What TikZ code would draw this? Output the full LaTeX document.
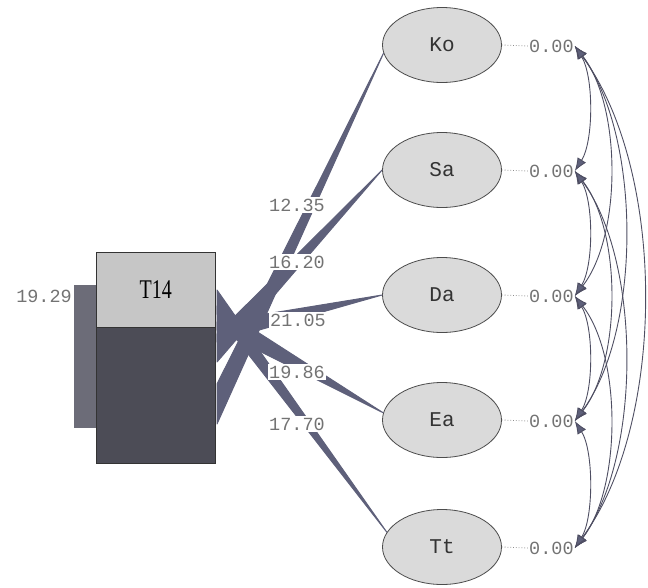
\documentclass[tikz,border=0pt]{standalone}
\usepackage{fontspec}
\setmainfont{Liberation Serif}
\newfontfamily\monofont{Liberation Mono}
\usetikzlibrary{arrows.meta,shapes.geometric}
\definecolor{wedgecol}{HTML}{5E607A}
\definecolor{boxdark}{HTML}{4C4C56}
\definecolor{bardark}{HTML}{6C6C78}
\definecolor{boxlight}{HTML}{C6C6C6}
\definecolor{ellfill}{HTML}{DADADA}
\definecolor{covcol}{HTML}{4E4E62}
\begin{document}
\begin{tikzpicture}[x=1pt,y=-1pt,
  latent/.style={ellipse, draw=black!70, line width=0.8pt, fill=ellfill, minimum width=119pt, minimum height=75pt, inner sep=0pt, font=\monofont\fontsize{21}{21}\selectfont, text=black!80},
  num/.style={font=\monofont\fontsize{18.5}{18.5}\selectfont, text=black!55, inner sep=1pt},
  est/.style={num, fill=white, inner sep=1.5pt},
  wedgefill/.style={fill=wedgecol, draw=wedgecol, line width=1pt, line join=round},
  cov/.style={draw=covcol, line width=0.9pt, {Latex[length=13pt,width=10pt,fill=wedgecol]}-{Latex[length=13pt,width=10pt,fill=wedgecol]}},
  errline/.style={draw=black!45, dotted, line width=0.8pt}]
\useasboundingbox (0,0) rectangle (648,587);

% latent variables
\node[latent] (Ko) at (442,45) {Ko};
\node[latent] (Sa) at (442,170) {Sa};
\node[latent] (Da) at (442,295) {Da};
\node[latent] (Ea) at (442,420) {Ea};
\node[latent] (Tt) at (442,547) {Tt};

% base points of the tapered paths at the right side of T14
\coordinate (kb1) at (217,384); \coordinate (kb2) at (217,424);
\coordinate (sb1) at (217,334); \coordinate (sb2) at (217,362);
\coordinate (db1) at (217,322); \coordinate (db2) at (217,342);
\coordinate (eb1) at (217,306); \coordinate (eb2) at (217,330);
\coordinate (tb1) at (217,290); \coordinate (tb2) at (217,314);

% tapered paths
\path[wedgefill] (Ko.188) -- (kb1) -- (kb2) -- cycle;
\path[wedgefill] (Sa.west) -- (sb1) -- (sb2) -- cycle;
\path[wedgefill] (Da.west) -- (db1) -- (db2) -- cycle;
\path[wedgefill] (Ea.173) -- (eb1) -- (eb2) -- cycle;
\path[wedgefill] (Tt.165) -- (tb1) -- (tb2) -- cycle;

% T14 box
\node[fill=bardark, minimum width=22pt, minimum height=143pt, anchor=north west, inner sep=0pt] (bar) at (74,285) {};
\node[draw=black!80, fill=boxdark, minimum width=119pt, minimum height=136pt, anchor=north west, inner sep=0pt] (T14b) at (96,327) {};
\node[draw=black!80, fill=boxlight, minimum width=119pt, minimum height=75pt, anchor=north west, inner sep=0pt] (T14) at (96,252) {\scalebox{0.74}[1]{\fontsize{27}{27}\selectfont T14}};
\node[num, anchor=east] (ev) at (73,296) {19.29};

% estimates on the paths
\node[est] (l1) at (297,205) {12.35};
\node[est] (l2) at (297,262) {16.20};
\node[est] (l3) at (298,320) {21.05};
\node[est] (l4) at (297,372) {19.86};
\node[est] (l5) at (297,424) {17.70};

% error variances
\node[num, anchor=west] (z1) at (528,46) {0.00};
\node[num, anchor=west] (z2) at (528,171) {0.00};
\node[num, anchor=west] (z3) at (528,296) {0.00};
\node[num, anchor=west] (z4) at (528,421) {0.00};
\node[num, anchor=west] (z5) at (528,548) {0.00};
\draw[errline] (Ko.east) -- (z1.west);
\draw[errline] (Sa.east) -- (z2.west);
\draw[errline] (Da.east) -- (z3.west);
\draw[errline] (Ea.east) -- (z4.west);
\draw[errline] (Tt.east) -- (z5.west);

% covariances
\foreach \a/\b/\c/\v in {1/2/19/30, 1/3/47/60, 1/4/67/90, 1/5/92/125, 2/3/19/30, 2/4/47/60, 2/5/67/90, 3/4/19/30, 3/5/47/60, 4/5/19/30}
  \draw[cov] (z\a.east) .. controls +(\c,\v) and +(\c,-\v) .. (z\b.east);
\end{tikzpicture}
\end{document}
